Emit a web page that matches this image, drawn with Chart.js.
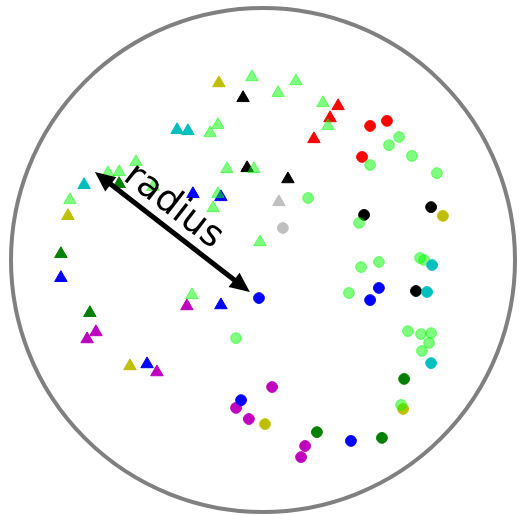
<!DOCTYPE html>
<html>
<head>
<meta charset="utf-8">
<script src="https://cdn.jsdelivr.net/npm/chart.js@4/dist/chart.umd.min.js"></script>
<style>
  html, body { margin: 0; padding: 0; background: #fff; }
  canvas { display: block; }
</style>
</head>
<body>
<canvas id="discChart" width="520" height="515"></canvas>
<script>
// points in units of the disc radius, centre at (0, 0)
const limeTriangles = [
  [-0.044, 0.726], [0.060, 0.663], [0.131, 0.710], [0.238, 0.623], [0.258, 0.532],
  [-0.179, 0.536], [-0.210, 0.504], [-0.143, 0.361], [-0.036, 0.361], [-0.504, 0.389],
  [-0.615, 0.345], [-0.571, 0.349], [-0.766, 0.238], [-0.179, 0.262], [-0.198, 0.206],
  [-0.012, 0.071], [-0.282, -0.139], [-0.437, 0.290]
];
const redTriangles = [[0.298, 0.611], [0.266, 0.563], [0.202, 0.480]];
const oliveTriangles = [[-0.175, 0.702], [-0.774, 0.175], [-0.528, -0.421]];
const blackTriangles = [[-0.079, 0.643], [-0.063, 0.365], [0.099, 0.321]];
const grayTriangles = [[0.063, 0.230]];
const cyanTriangles = [[-0.341, 0.516], [-0.298, 0.512], [-0.710, 0.298]];
const blueTriangles = [[-0.278, 0.262], [-0.167, 0.250], [-0.802, -0.071], [-0.167, -0.179], [-0.460, -0.413]];
const greenTriangles = [[-0.571, 0.302], [-0.802, 0.024], [-0.687, -0.210]];
const magentaTriangles = [[-0.663, -0.286], [-0.698, -0.314], [-0.302, -0.183], [-0.421, -0.445]];

const limeCircles = [
  [0.540, 0.488], [0.500, 0.456], [0.425, 0.377], [0.591, 0.413], [0.690, 0.345],
  [0.179, 0.246], [0.381, 0.147], [0.389, -0.028], [0.460, -0.008], [0.623, 0.008],
  [0.639, 0.000], [0.341, -0.131], [0.575, -0.282], [0.627, -0.294], [0.667, -0.290],
  [0.659, -0.329], [0.631, -0.361], [0.548, -0.575], [-0.107, -0.310]
];
const redCircles = [[0.425, 0.532], [0.492, 0.552], [0.393, 0.409]];
const blackCircles = [[0.401, 0.179], [0.667, 0.210], [0.607, -0.123]];
const oliveCircles = [[0.714, 0.175], [0.556, -0.591], [0.008, -0.651]];
const grayCircles = [[0.079, 0.127]];
const cyanCircles = [[0.671, -0.020], [0.651, -0.127], [0.667, -0.409]];
const blueCircles = [[-0.016, -0.151], [0.460, -0.111], [0.425, -0.159], [-0.087, -0.556], [0.349, -0.718]];
const greenCircles = [[0.560, -0.472], [0.214, -0.683], [0.472, -0.706]];
const magentaCircles = [[0.036, -0.504], [-0.107, -0.587], [-0.056, -0.631], [0.167, -0.738], [0.151, -0.782]];

// the radius arrow and its label
const arrowStart = [-0.052, -0.127];
const arrowEnd = [-0.667, 0.349];
const arrowLabel = 'radius';
const labelAt = [-0.357, 0.212];

const LIME = 'rgba(0, 255, 0, 0.5)';

function pts(list) {
    return list.map(p => ({ x: p[0], y: p[1] }));
}

function serie(list, color, style) {
    const tri = style === 'triangle';
    return {
        data: pts(list),
        pointStyle: style,
        pointRadius: tri ? 7.2 : 5.4,
        pointHoverRadius: tri ? 7.2 : 5.4,
        pointBorderWidth: 1,
        backgroundColor: color,
        borderColor: color,
        showLine: false
    };
}

// big grey ring, drawn under the markers
const discPlugin = {
    id: 'disc',
    beforeDatasetsDraw(chart) {
        const { ctx, scales: { x, y } } = chart;
        const cx = x.getPixelForValue(0);
        const cy = y.getPixelForValue(0);
        const r = x.getPixelForValue(1) - cx;
        ctx.save();
        ctx.beginPath();
        ctx.arc(cx, cy, r, 0, Math.PI * 2);
        ctx.strokeStyle = '#808080';
        ctx.lineWidth = 4;
        ctx.stroke();
        ctx.restore();
    }
};

function arrowHead(ctx, tx, ty, ang) {
    const len = 20, half = 9;
    ctx.beginPath();
    ctx.moveTo(tx, ty);
    ctx.lineTo(tx - len * Math.cos(ang) + half * Math.sin(ang), ty - len * Math.sin(ang) - half * Math.cos(ang));
    ctx.lineTo(tx - len * Math.cos(ang) - half * Math.sin(ang), ty - len * Math.sin(ang) + half * Math.cos(ang));
    ctx.closePath();
    ctx.fill();
}

// double headed arrow + rotated label on top of everything
const arrowPlugin = {
    id: 'radiusArrow',
    afterDatasetsDraw(chart) {
        const { ctx, scales: { x, y } } = chart;
        const x1 = x.getPixelForValue(arrowStart[0]), y1 = y.getPixelForValue(arrowStart[1]);
        const x2 = x.getPixelForValue(arrowEnd[0]), y2 = y.getPixelForValue(arrowEnd[1]);
        const ang = Math.atan2(y2 - y1, x2 - x1);
        const back = 16;
        ctx.save();
        ctx.strokeStyle = '#000';
        ctx.fillStyle = '#000';
        ctx.lineWidth = 5;
        ctx.beginPath();
        ctx.moveTo(x1 + back * Math.cos(ang), y1 + back * Math.sin(ang));
        ctx.lineTo(x2 - back * Math.cos(ang), y2 - back * Math.sin(ang));
        ctx.stroke();
        arrowHead(ctx, x2, y2, ang);
        arrowHead(ctx, x1, y1, ang + Math.PI);

        const lx = x.getPixelForValue(labelAt[0]), ly = y.getPixelForValue(labelAt[1]);
        ctx.translate(lx, ly);
        ctx.rotate(ang + Math.PI);
        ctx.font = '37px "DejaVu Sans"';
        ctx.textAlign = 'center';
        ctx.textBaseline = 'middle';
        ctx.fillText(arrowLabel, 0, 0);
        ctx.restore();
    }
};

const ctx = document.getElementById('discChart').getContext('2d');
new Chart(ctx, {
    type: 'scatter',
    data: {
        datasets: [
            serie(cyanCircles, '#00bfbf', 'circle'),
            serie(limeTriangles, LIME, 'triangle'),
            serie(limeCircles, LIME, 'circle'),
            serie(redTriangles, '#ff0000', 'triangle'),
            serie(oliveTriangles, '#bfbf00', 'triangle'),
            serie(blackTriangles, '#000000', 'triangle'),
            serie(grayTriangles, '#bfbfbf', 'triangle'),
            serie(cyanTriangles, '#00bfbf', 'triangle'),
            serie(blueTriangles, '#0000ff', 'triangle'),
            serie(greenTriangles, '#008000', 'triangle'),
            serie(magentaTriangles, '#bf00bf', 'triangle'),
            serie(redCircles, '#ff0000', 'circle'),
            serie(blackCircles, '#000000', 'circle'),
            serie(oliveCircles, '#bfbf00', 'circle'),
            serie(grayCircles, '#bfbfbf', 'circle'),
            serie(blueCircles, '#0000ff', 'circle'),
            serie(greenCircles, '#008000', 'circle'),
            serie(magentaCircles, '#bf00bf', 'circle')
        ]
    },
    options: {
        responsive: false,
        animation: false,
        layout: { padding: 0, autoPadding: false },
        scales: {
            x: { display: false, min: -263 / 252, max: 257 / 252 },
            y: { display: false, min: -255 / 252, max: 260 / 252 }
        },
        plugins: { legend: { display: false }, tooltip: { enabled: false } }
    },
    plugins: [discPlugin, arrowPlugin]
});
</script>
</body>
</html>
